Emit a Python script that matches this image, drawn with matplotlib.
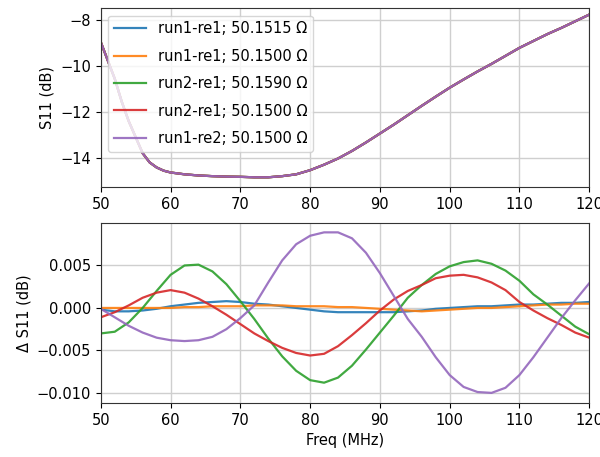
import numpy as np
import matplotlib
matplotlib.use("Agg")
import matplotlib.pyplot as plt

# --- datos ---
labels = ["run1-re1; 50.1515 Ω", "run1-re1; 50.1500 Ω", "run2-re1; 50.1590 Ω",
          "run2-re1; 50.1500 Ω", "run1-re2; 50.1500 Ω"]

# S11 (dB), rejilla mas fina al principio donde la curva cae rapido
freq_s11 = [50, 51, 52, 53, 54, 55, 56, 57, 58, 59, 60, 62, 64, 66, 68, 70, 72, 74,
            76, 78, 80, 82, 84, 86, 88, 90, 92, 94, 96, 98, 100, 102, 104, 106, 108,
            110, 112, 114, 116, 118, 120]
s11 = [-8.95, -9.75, -10.55, -11.55, -12.4, -13.1, -13.8, -14.2, -14.42, -14.56, -14.64,
       -14.72, -14.77, -14.80, -14.82, -14.83, -14.85, -14.85, -14.80, -14.72, -14.54,
       -14.30, -14.03, -13.70, -13.33, -12.94, -12.55, -12.14, -11.73, -11.33, -10.94,
       -10.58, -10.23, -9.90, -9.55, -9.20, -8.90, -8.60, -8.33, -8.04, -7.75]

# Delta S11 (dB), cada 2 MHz
freq = list(range(50, 121, 2))
d_blue = [-0.0002, -0.0004, -0.0004, -0.0003, -0.0001, 0.0002, 0.0004, 0.0006, 0.0007,
          0.0008, 0.0007, 0.0005, 0.0004, 0.0002, 0.0000, -0.0002, -0.0004, -0.0005,
          -0.0005, -0.0005, -0.0005, -0.0005, -0.0004, -0.0003, -0.0001, 0.0000, 0.0001,
          0.0002, 0.0002, 0.0003, 0.0004, 0.0004, 0.0005, 0.0006, 0.0006, 0.0007]
d_orange = [0.0000, 0.0000, 0.0000, 0.0000, 0.0000, 0.0000, 0.0001, 0.0001, 0.0002,
            0.0002, 0.0002, 0.0003, 0.0003, 0.0003, 0.0002, 0.0002, 0.0002, 0.0001,
            0.0001, 0.0000, -0.0001, -0.0002, -0.0003, -0.0004, -0.0003, -0.0002,
            -0.0001, 0.0000, 0.0000, 0.0001, 0.0002, 0.0003, 0.0004, 0.0004, 0.0005, 0.0005]
d_green = [-0.0030, -0.0028, -0.0017, 0.0000, 0.0020, 0.0039, 0.0050, 0.0051, 0.0043,
           0.0028, 0.0008, -0.0013, -0.0036, -0.0057, -0.0074, -0.0085, -0.0088, -0.0082,
           -0.0068, -0.0049, -0.0029, -0.0009, 0.0012, 0.0027, 0.0040, 0.0049, 0.0054,
           0.0056, 0.0052, 0.0044, 0.0032, 0.0016, 0.0004, -0.0009, -0.0022, -0.0031]
d_red = [-0.0011, -0.0005, 0.0003, 0.0012, 0.0018, 0.0021, 0.0018, 0.0011, 0.0002,
         -0.0008, -0.0019, -0.0030, -0.0039, -0.0047, -0.0053, -0.0056, -0.0054, -0.0045,
         -0.0032, -0.0018, -0.0003, 0.0010, 0.0020, 0.0027, 0.0035, 0.0038, 0.0039,
         0.0036, 0.0030, 0.0021, 0.0007, -0.0003, -0.0012, -0.0020, -0.0029, -0.0035]
d_purple = [-0.0001, -0.0011, -0.0021, -0.0029, -0.0035, -0.0038, -0.0039, -0.0038,
            -0.0034, -0.0025, -0.0012, 0.0003, 0.0030, 0.0056, 0.0075, 0.0085, 0.0089,
            0.0089, 0.0082, 0.0065, 0.0041, 0.0014, -0.0013, -0.0034, -0.0058, -0.0079,
            -0.0093, -0.0099, -0.0100, -0.0094, -0.0079, -0.0058, -0.0035, -0.0012,
            0.0009, 0.0029]
deltas = [d_blue, d_orange, d_green, d_red, d_purple]

plt.rcParams["font.size"] = 10.5
plt.rcParams["grid.color"] = "#cfcfcf"
plt.rcParams["grid.linewidth"] = 1.0
plt.rcParams["axes.edgecolor"] = "#333333"

fig = plt.figure(figsize=(6, 4.57), dpi=100)
ax1 = fig.add_axes([0.168, 0.591, 0.814, 0.391])
ax2 = fig.add_axes([0.168, 0.118, 0.814, 0.394])

# arriba: las cinco curvas son practicamente iguales
for lab in labels:
    ax1.plot(freq_s11, s11, lw=1.6, alpha=0.9, label=lab)
ax1.set_xlim(50, 120)
ax1.set_ylim(-15.27, -7.47)
ax1.set_yticks([-14, -12, -10, -8])
ax1.set_ylabel("S11 (dB)")
ax1.grid(True)
ax1.legend(loc="upper left", labelspacing=0.85, handlelength=2.2)

# abajo: diferencias
for d, lab in zip(deltas, labels):
    ax2.plot(freq, d, lw=1.6, alpha=0.9, label=lab)
ax2.set_xlim(50, 120)
ax2.set_ylim(-0.0112, 0.0100)
ax2.set_yticks([-0.010, -0.005, 0.0, 0.005])
ax2.set_ylabel("Δ S11 (dB)")
ax2.set_xlabel("Freq (MHz)")
ax2.grid(True)

for ax in (ax1, ax2):
    ax.set_xticks(np.arange(50, 121, 10))

fig.savefig("out.png", dpi=100)
